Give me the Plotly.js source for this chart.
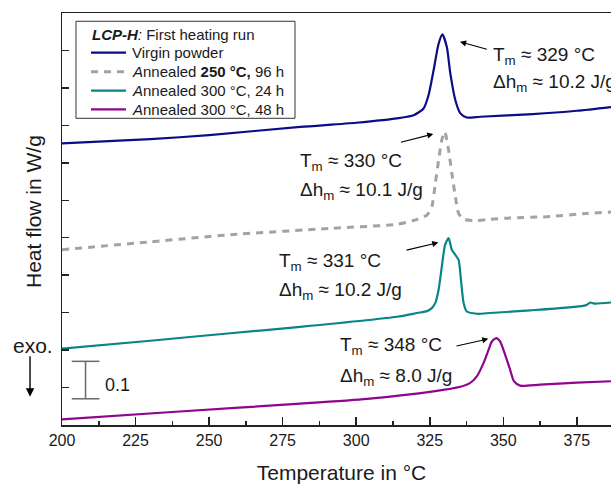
<!DOCTYPE html>
<html>
<head>
<meta charset="utf-8">
<script src="https://cdn.plot.ly/plotly-3.0.1.min.js"></script>
<style>
  html, body { margin: 0; padding: 0; background: #fff; overflow: hidden; }
  #frame { width: 611px; height: 484px; overflow: hidden; }
  #chart { width: 621px; height: 484px; }
</style>
</head>
<body>
<div id="frame"><div id="chart"></div></div>
<script>
// DSC first heating runs of LCP-H, curves stacked with vertical offsets (W/g)
const virginT = [200, 230, 250, 281, 300, 315, 319.5, 322.9, 324.6, 326.3, 328.0, 329.3, 330.8, 332.0, 333.7, 335.4, 337.6, 342.2, 360, 375, 390];
const virginQ = [0.752, 0.763, 0.774, 0.796, 0.807, 0.820, 0.827, 0.845, 0.881, 0.947, 1.018, 1.043, 1.009, 0.938, 0.867, 0.832, 0.821, 0.823, 0.830, 0.839, 0.852];

const ann250T = [200, 230, 257.2, 291.2, 313.9, 320.7, 324.1, 325.7, 326.9, 328.0, 329.1, 330.1, 331.4, 332.5, 333.7, 334.8, 336.5, 341.0, 345.5, 352.3, 364.8, 378.4, 390];
const ann250Q = [0.468, 0.489, 0.508, 0.525, 0.536, 0.549, 0.561, 0.583, 0.645, 0.707, 0.761, 0.783, 0.734, 0.672, 0.610, 0.565, 0.549, 0.546, 0.549, 0.553, 0.556, 0.565, 0.570];

const ann300s24T = [200, 230, 257.2, 281, 313.9, 320.7, 324.1, 325.7, 326.9, 328.0, 329.1, 330.2, 331.4, 332.5, 333.7, 334.8, 335.6, 336.5, 337.6, 341.0, 345.5, 359.1, 377.2, 378.6, 379.5, 380.5, 381.2, 386.6, 390];
const ann300s24Q = [0.204, 0.225, 0.245, 0.262, 0.289, 0.299, 0.304, 0.312, 0.326, 0.361, 0.423, 0.481, 0.499, 0.468, 0.454, 0.441, 0.388, 0.326, 0.303, 0.297, 0.299, 0.306, 0.318, 0.322, 0.327, 0.325, 0.324, 0.327, 0.330];

const ann300s48T = [200, 240, 281, 303.7, 326.3, 335.4, 338.5, 341.0, 343.3, 345.0, 346.1, 347.6, 348.9, 350.6, 352.3, 353.6, 355.7, 362.5, 375, 390];
const ann300s48Q = [0.015, 0.036, 0.057, 0.070, 0.090, 0.102, 0.111, 0.130, 0.166, 0.201, 0.223, 0.232, 0.223, 0.188, 0.148, 0.117, 0.105, 0.108, 0.113, 0.118];

const seriesNames = [
  'Virgin powder',
  '<i>A</i>nnealed <b>250 °C,</b> 96 h',
  '<i>A</i>nnealed 300 °C, 24 h',
  '<i>A</i>nnealed 300 °C, 48 h'
];
const legendTitle = '<b><i>LCP-H</i></b><i>:</i> First heating run';

// melting peak results per curve
const meltTm = [329, 330, 331, 348];
const meltDh = [10.2, 10.1, 10.2, 8.0];

const scaleBar = 0.1;
const xTicks = [200, 225, 250, 275, 300, 325, 350, 375];

const FONT = 'Liberation Sans, Arial, sans-serif';
const INK = '#1a1a1a';

const lineStyles = [
  { color: '#0c0c86', width: 2.2 },
  { color: '#a3a3a3', width: 3, dash: '7px,6px' },
  { color: '#0a8585', width: 2.2 },
  { color: '#8e058e', width: 2.2 }
];

const traces = [
  [virginT, virginQ], [ann250T, ann250Q], [ann300s24T, ann300s24Q], [ann300s48T, ann300s48Q]
].map((d, i) => ({
  type: 'scatter', mode: 'lines', hoverinfo: 'skip', name: seriesNames[i],
  x: d[0], y: d[1],
  line: Object.assign({ shape: 'spline', smoothing: 0.6 }, lineStyles[i])
}));

// label placement for each peak: text anchor (left x, line-1 y, line-2 y) and arrow tail/head
const labelPos = [
  { x: 345.7, y1: 0.985, y2: 0.912, tail: [344.9, 1.002], head: [335.3, 1.023] },
  { x: 280.3, y1: 0.703, y2: 0.625, tail: [314.7, 0.754], head: [326.2, 0.777] },
  { x: 273.0, y1: 0.435, y2: 0.359, tail: [316.6, 0.466], head: [327.9, 0.487] },
  { x: 293.9, y1: 0.210, y2: 0.128, tail: [333.6, 0.210], head: [344.9, 0.230] }
];

const annotations = [];
labelPos.forEach((p, i) => {
  annotations.push({
    xref: 'x', yref: 'y', x: p.x, y: p.y1, xanchor: 'left', yanchor: 'middle',
    text: 'T<sub>m</sub> ≈ ' + meltTm[i] + ' °C', showarrow: false,
    font: { family: FONT, size: 19, color: INK }
  });
  annotations.push({
    xref: 'x', yref: 'y', x: p.x, y: p.y2, xanchor: 'left', yanchor: 'middle',
    text: 'Δh<sub>m</sub> ≈ ' + meltDh[i].toFixed(1) + ' J/g', showarrow: false,
    font: { family: FONT, size: 19, color: INK }
  });
  annotations.push({
    xref: 'x', yref: 'y', axref: 'x', ayref: 'y',
    x: p.head[0], y: p.head[1], ax: p.tail[0], ay: p.tail[1],
    text: '', showarrow: true, arrowhead: 2, arrowsize: 1.1, arrowwidth: 1.1,
    arrowcolor: '#000', standoff: 0, startstandoff: 0
  });
});

// y-axis title, exotherm direction and the scale bar label
annotations.push({
  xref: 'paper', yref: 'paper', x: -0.0513, y: 0.5177, xanchor: 'center', yanchor: 'middle',
  text: 'Heat flow in W/g', textangle: -90, showarrow: false,
  font: { family: FONT, size: 21, color: INK }
});
annotations.push({
  xref: 'paper', yref: 'paper', x: -0.0513, y: 0.194, xanchor: 'center', yanchor: 'middle',
  text: 'exo.', showarrow: false, font: { family: FONT, size: 21, color: INK }
});
annotations.push({
  xref: 'paper', yref: 'paper', x: -0.0572, y: 0.0687, ax: 0, ay: -42,
  text: '', showarrow: true, arrowhead: 2, arrowsize: 1.2, arrowwidth: 1.4,
  arrowcolor: '#000', standoff: 0
});

const barX = 208, barHalf = 4.7, barBase = 0.07;
annotations.push({
  xref: 'x', yref: 'y', x: 213.8, y: barBase + scaleBar * 0.38, xanchor: 'left', yanchor: 'middle',
  text: String(scaleBar), showarrow: false, font: { family: FONT, size: 18, color: INK }
});

const barStyle = { color: '#6a6a6a', width: 1.5 };
const shapes = [
  { type: 'line', xref: 'x', yref: 'y', x0: barX, x1: barX, y0: barBase, y1: barBase + scaleBar, line: barStyle },
  { type: 'line', xref: 'x', yref: 'y', x0: barX - barHalf, x1: barX + barHalf, y0: barBase, y1: barBase, line: barStyle },
  { type: 'line', xref: 'x', yref: 'y', x0: barX - barHalf, x1: barX + barHalf, y0: barBase + scaleBar, y1: barBase + scaleBar, line: barStyle }
];

// legend box drawn in paper coordinates
const legBox = { x0: 0.0250, x1: 0.4168, y0: 0.7444, y1: 0.9799 };
const legSample = { x0: 0.0519, x1: 0.1145 };
const legTextX = 0.1216;
const legTitleY = 0.9490;
const legRowY = [0.9036, 0.8575, 0.8114, 0.7663];

shapes.push({
  type: 'rect', xref: 'paper', yref: 'paper',
  x0: legBox.x0, x1: legBox.x1, y0: legBox.y0, y1: legBox.y1,
  line: { color: '#333', width: 1 }, fillcolor: '#fff', layer: 'above'
});
annotations.push({
  xref: 'paper', yref: 'paper', x: legSample.x0 - 0.002, y: legTitleY, xanchor: 'left', yanchor: 'middle',
  text: legendTitle, showarrow: false, font: { family: FONT, size: 15, color: INK }
});
seriesNames.forEach((name, i) => {
  shapes.push({
    type: 'line', xref: 'paper', yref: 'paper',
    x0: legSample.x0, x1: legSample.x1, y0: legRowY[i], y1: legRowY[i],
    line: { color: lineStyles[i].color, width: lineStyles[i].width, dash: lineStyles[i].dash || 'solid' },
    layer: 'above'
  });
  annotations.push({
    xref: 'paper', yref: 'paper', x: legTextX, y: legRowY[i], xanchor: 'left', yanchor: 'middle',
    text: name, showarrow: false, font: { family: FONT, size: 15, color: INK }
  });
});

const layout = {
  width: 621, height: 484,
  margin: { l: 62, r: 0, t: 13, b: 59 },
  paper_bgcolor: '#fff', plot_bgcolor: '#fff',
  font: { family: FONT, color: INK },
  showlegend: false,
  xaxis: {
    range: [200, 390], showgrid: false, zeroline: false,
    showline: true, linecolor: '#222', linewidth: 1.5, mirror: true,
    tickmode: 'array', tickvals: xTicks, ticktext: xTicks.map(String),
    ticks: 'inside', ticklen: 8, tickwidth: 1.5, tickcolor: '#222',
    minor: { dtick: 12.5, tick0: 200, ticks: 'inside', ticklen: 4, tickwidth: 1.5, tickcolor: '#222' },
    tickfont: { family: FONT, size: 16, color: INK },
    title: { text: 'Temperature in °C', font: { family: FONT, size: 21, color: INK }, standoff: 18 }
  },
  yaxis: {
    range: [0, 1.1], showgrid: false, zeroline: false,
    showline: true, linecolor: '#222', linewidth: 1.5,
    tick0: 0, dtick: 0.1, ticks: 'inside', ticklen: 7, tickwidth: 1.5, tickcolor: '#222',
    showticklabels: false
  },
  annotations: annotations,
  shapes: shapes
};

Plotly.newPlot('chart', traces, layout, { staticPlot: true, displayModeBar: false });
</script>
</body>
</html>
